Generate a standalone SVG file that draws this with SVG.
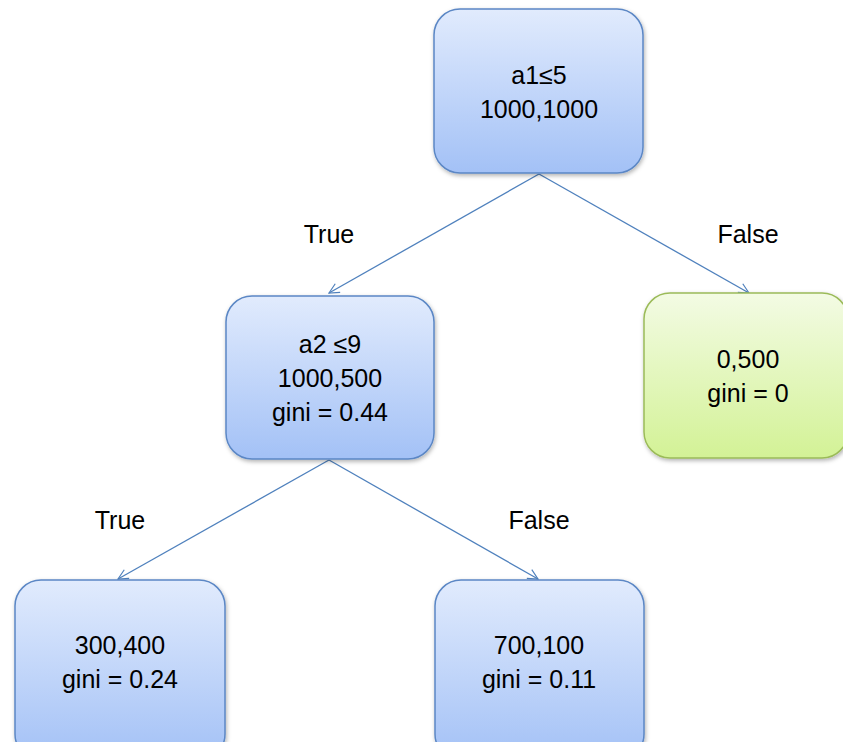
<svg xmlns="http://www.w3.org/2000/svg" width="843" height="742" viewBox="0 0 843 742">
<defs>
<linearGradient id="gBlue" x1="0" y1="0" x2="0" y2="1">
<stop offset="0" stop-color="#e1ebfd"/>
<stop offset="1" stop-color="#a3c1f6"/>
</linearGradient>
<linearGradient id="gGreen" x1="0" y1="0" x2="0" y2="1">
<stop offset="0" stop-color="#f3fbe4"/>
<stop offset="1" stop-color="#d3f296"/>
</linearGradient>
<filter id="sh" x="-10%" y="-10%" width="125%" height="125%">
<feDropShadow dx="1" dy="2" stdDeviation="2" flood-color="#000" flood-opacity="0.3"/>
</filter>
<marker id="arr" viewBox="0 0 12 12" refX="11" refY="6" markerWidth="12" markerHeight="12" markerUnits="userSpaceOnUse" orient="auto">
<path d="M1,1 L11,6 L1,11" fill="none" stroke="#4f81bd" stroke-width="1.2"/>
</marker>
</defs>
<style>
.blue{fill:url(#gBlue);stroke:#5b87c5;stroke-width:1.5;filter:url(#sh)}
.green{fill:url(#gGreen);stroke:#9bbb59;stroke-width:1.5;filter:url(#sh)}
text{font-family:"Liberation Sans","Open Sans",sans-serif;font-size:25px;fill:#000;text-anchor:middle}
.edge{stroke:#4f81bd;stroke-width:1.3;fill:none;marker-end:url(#arr)}
</style>
<g id="connectors">
<line class="edge" x1="539" y1="174" x2="329" y2="293"/>
<line class="edge" x1="539" y1="174" x2="749" y2="293"/>
<line class="edge" x1="329" y1="460" x2="118" y2="579"/>
<line class="edge" x1="329" y1="460" x2="538" y2="579"/>
<text x="329" y="243">True</text>
<text x="748" y="243">False</text>
<text x="120" y="529">True</text>
<text x="539" y="529">False</text>
</g>
<g id="n_root">
<rect class="blue" x="434" y="9" width="209" height="164" rx="26"/>
<text x="539" y="84">a1≤5</text>
<text x="539" y="118">1000,1000</text>
</g>
<g id="n_a2">
<rect class="blue" x="226" y="296" width="208" height="163" rx="26"/>
<text x="330" y="353">a2 ≤9</text>
<text x="330" y="387">1000,500</text>
<text x="330" y="421">gini = 0.44</text>
</g>
<g id="n_false1">
<rect class="green" x="644" y="293" width="204" height="165" rx="26"/>
<text x="748" y="368">0,500</text>
<text x="748" y="402">gini = 0</text>
</g>
<g id="n_ll">
<rect class="blue" x="15" y="580" width="210" height="180" rx="26"/>
<text x="120" y="654">300,400</text>
<text x="120" y="688">gini = 0.24</text>
</g>
<g id="n_lr">
<rect class="blue" x="435" y="580" width="209" height="180" rx="26"/>
<text x="539" y="654">700,100</text>
<text x="539" y="688">gini = 0.11</text>
</g>
</svg>
